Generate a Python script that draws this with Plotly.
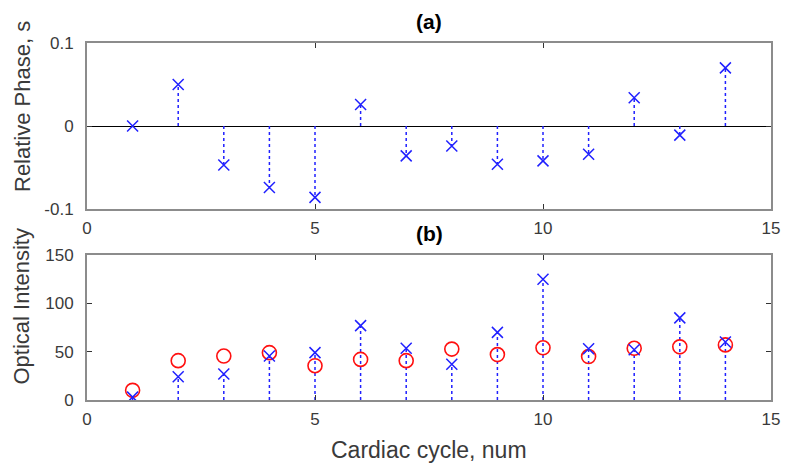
import plotly.graph_objects as go

cycles = list(range(1, 15))
phase = [0.0, 0.050, -0.047, -0.074, -0.086, 0.026, -0.036, -0.024, -0.046, -0.042, -0.034, 0.034, -0.011, 0.070]
intensity_x = [3, 24, 27, 45.5, 49, 77, 53.5, 37, 70, 125, 53, 52, 85, 60]
intensity_o = [10, 40.7, 45.5, 49, 35.5, 42, 40.7, 52.7, 47, 54, 45, 53.5, 55, 57]
x_ticks = [0, 5, 10, 15]
phase_ticks = [-0.1, 0, 0.1]
phase_tick_text = ["-0.1", "0", "0.1"]
int_ticks = [0, 50, 100, 150]

FONT = "Liberation Sans, Arial, sans-serif"
BLUE = "#2020ff"
RED = "#ff1010"
GRAY = "#8c8c8c"
TXT = "#3a3a3a"


def stems(xs, ys):
    sx, sy = [], []
    for x, y in zip(xs, ys):
        sx += [x, x, None]
        sy += [0, y, None]
    return sx, sy


fig = go.Figure()

sx, sy = stems(cycles, phase)
fig.add_trace(go.Scatter(x=sx, y=sy, mode="lines", xaxis="x", yaxis="y",
                         line=dict(color=BLUE, width=1.5, dash="dot"), showlegend=False))
fig.add_trace(go.Scatter(x=cycles, y=phase, mode="markers", xaxis="x", yaxis="y",
                         marker=dict(symbol="x-thin-open", size=11, color=BLUE,
                                     line=dict(color=BLUE, width=1.5)),
                         showlegend=False))

sx2, sy2 = stems(cycles, intensity_x)
fig.add_trace(go.Scatter(x=sx2, y=sy2, mode="lines", xaxis="x2", yaxis="y2",
                         line=dict(color=BLUE, width=1.5, dash="dot"), showlegend=False))
fig.add_trace(go.Scatter(x=cycles, y=intensity_o, mode="markers", xaxis="x2", yaxis="y2",
                         marker=dict(symbol="circle-open", size=14, color=RED,
                                     line=dict(color=RED, width=1.6)),
                         showlegend=False))
fig.add_trace(go.Scatter(x=cycles, y=intensity_x, mode="markers", xaxis="x2", yaxis="y2",
                         marker=dict(symbol="x-thin-open", size=11, color=BLUE,
                                     line=dict(color=BLUE, width=1.5)),
                         showlegend=False))

axis_common = dict(showline=True, linecolor=GRAY, linewidth=2, mirror="allticks",
                   ticks="inside", ticklen=5, tickcolor="#333333", tickwidth=1,
                   showgrid=False, tickfont=dict(family=FONT, size=17, color=TXT))

fig.update_layout(
    width=792, height=463,
    margin=dict(l=87, r=12, t=43, b=63),
    paper_bgcolor="white", plot_bgcolor="white",
    font=dict(family=FONT, color=TXT),
    xaxis=dict(domain=[0, 1], range=[0, 15], tickvals=x_ticks, anchor="y",
               zeroline=False, ticklabelstandoff=3, **axis_common),
    yaxis=dict(domain=[0.535, 1], range=[-0.1, 0.1], tickvals=phase_ticks, ticktext=phase_tick_text,
               anchor="x", zeroline=True, zerolinecolor="black", zerolinewidth=1,
               ticklabelstandoff=8, **axis_common),
    xaxis2=dict(domain=[0, 1], range=[0, 15], tickvals=x_ticks, anchor="y2", zeroline=False,
                ticklabelstandoff=3, **axis_common),
    yaxis2=dict(domain=[0, 0.406], range=[0, 150], tickvals=int_ticks, anchor="x2", zeroline=False,
                ticklabelstandoff=8, **axis_common),
    annotations=[
        dict(text="<b>(a)</b>", x=0.5, y=1, xref="paper", yref="paper", xanchor="center", yanchor="bottom",
             yshift=8, showarrow=False, font=dict(family=FONT, size=21, color="black")),
        dict(text="<b>(b)</b>", x=0.5, y=0.406, xref="paper", yref="paper", xanchor="center", yanchor="bottom",
             yshift=8, showarrow=False, font=dict(family=FONT, size=21, color="black")),
        dict(text="Relative Phase, s", x=0, y=0.535 + (1 - 0.535) / 2, xref="paper", yref="paper",
             xanchor="center", yanchor="middle", xshift=-65, yshift=19, textangle=-90, showarrow=False,
             font=dict(family=FONT, size=22, color=TXT)),
        dict(text="Optical Intensity", x=0, y=0.406 / 2, xref="paper", yref="paper",
             xanchor="center", yanchor="middle", xshift=-65, yshift=21, textangle=-90, showarrow=False,
             font=dict(family=FONT, size=22, color=TXT)),
        dict(text="Cardiac cycle, num", x=0.5, y=0, xref="paper", yref="paper",
             xanchor="center", yanchor="top", yshift=-35, showarrow=False,
             font=dict(family=FONT, size=23, color=TXT)),
    ],
)

fig.write_html("out.html")
